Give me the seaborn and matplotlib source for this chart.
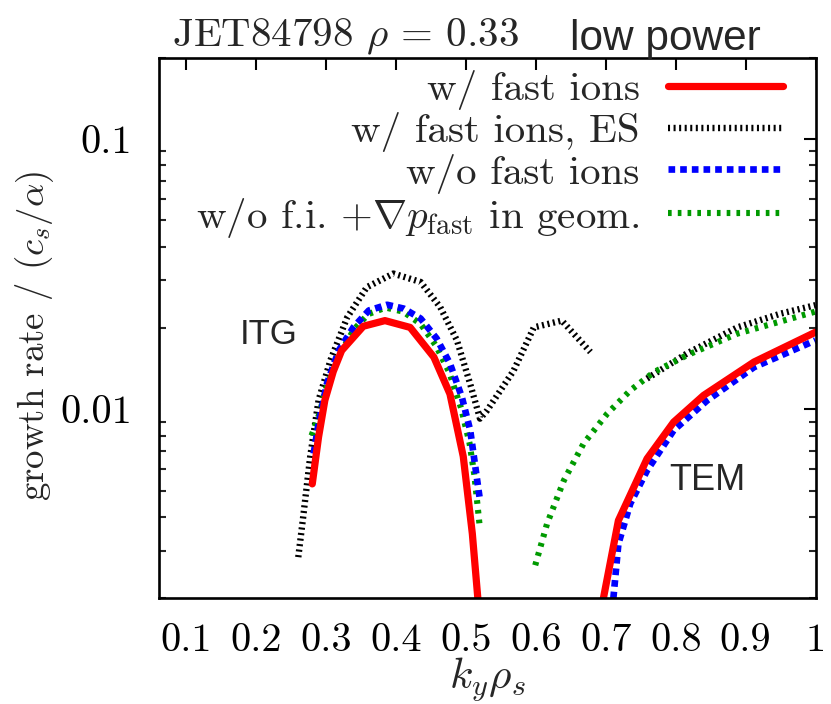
import numpy as np
import pandas as pd
import matplotlib
matplotlib.use("Agg")
import matplotlib.pyplot as plt
import seaborn as sns
from matplotlib.ticker import FixedLocator, FixedFormatter, NullFormatter, LogLocator

# ---------------- data ----------------
series_names = ["w/ fast ions", "w/ fast ions, ES", "w/o fast ions",
                r"w/o f.i. $+\nabla p_{\rm fast}$ in geom."]

red_itg_x = [0.280, 0.289, 0.298, 0.310, 0.322, 0.353, 0.384, 0.420, 0.454, 0.477, 0.496, 0.509, 0.522]
red_itg_y = [0.0053, 0.0079, 0.0108, 0.0138, 0.0165, 0.0203, 0.0213, 0.0201, 0.0156, 0.0114, 0.0067,
             0.00347, 0.0014]
red_tem_x = [0.680, 0.718, 0.759, 0.797, 0.840, 0.912, 1.000]
red_tem_y = [0.0012, 0.00388, 0.00657, 0.00897, 0.01127, 0.01497, 0.0193]

blk_itg_x = [0.260, 0.267, 0.277, 0.289, 0.306, 0.330, 0.358, 0.396, 0.435, 0.463, 0.487,
             0.506, 0.520, 0.530, 0.568, 0.597, 0.637, 0.678]
blk_itg_y = [0.00284, 0.0040, 0.00667, 0.0108, 0.0152, 0.0219, 0.0283, 0.0318, 0.0296, 0.0239,
             0.0180, 0.0124, 0.00924, 0.0099, 0.0139, 0.0201, 0.0213, 0.0163]
blk_tem_x = [0.759, 0.816, 0.888, 0.950, 1.000]
blk_tem_y = [0.0130, 0.0161, 0.0201, 0.0226, 0.0243]

blu_itg_x = [0.282, 0.289, 0.301, 0.318, 0.339, 0.361, 0.387, 0.411, 0.435, 0.458, 0.477,
             0.494, 0.506, 0.520]
blu_itg_y = [0.00686, 0.00885, 0.01245, 0.01652, 0.02014, 0.02323, 0.02438, 0.02359, 0.02168,
             0.01828, 0.01477, 0.01111, 0.00836, 0.0046]
blu_tem_x = [0.700, 0.718, 0.735, 0.759, 0.797, 0.845, 0.912, 1.000]
blu_tem_y = [0.0010, 0.00318, 0.00448, 0.00594, 0.00836, 0.01079, 0.01432, 0.0180]

grn_itg_x = [0.279, 0.290, 0.300, 0.320, 0.340, 0.360, 0.385, 0.410, 0.435, 0.457, 0.476,
             0.493, 0.505, 0.512, 0.520]
grn_itg_y = [0.0080, 0.0096, 0.0120, 0.0162, 0.0198, 0.0225, 0.0238, 0.0230, 0.0207, 0.0172,
             0.0137, 0.0101, 0.0075, 0.0057, 0.0036]
grn_tem_x = [0.599, 0.616, 0.640, 0.668, 0.702, 0.735, 0.769, 0.816, 0.888, 1.000]
grn_tem_y = [0.00265, 0.00378, 0.00546, 0.00746, 0.00964, 0.01175, 0.01374, 0.01585, 0.01905,
             0.0230]

x_ticks = [0.1, 0.2, 0.3, 0.4, 0.5, 0.6, 0.7, 0.8, 0.9, 1.0]
x_tick_labels = ["0.1", "0.2", "0.3", "0.4", "0.5", "0.6", "0.7", "0.8", "0.9", "1"]
y_ticks = [0.01, 0.1]
y_tick_labels = ["0.01", "0.1"]

# ---------------- styling ----------------
sns.set_theme(style="white")
plt.rcParams["font.family"] = ["cmr10", "DejaVu Serif"]
plt.rcParams["mathtext.fontset"] = "cm"
plt.rcParams["axes.formatter.use_mathtext"] = True
plt.rcParams["axes.unicode_minus"] = False

styles = {
    series_names[0]: dict(color="#ff0000", lw=5.2, ls="-"),
    series_names[1]: dict(color="#000000", lw=4.6, ls=(0, (0.32, 0.55))),
    series_names[2]: dict(color="#0000ff", lw=4.8, ls=(0, (1.0, 0.75))),
    series_names[3]: dict(color="#009a00", lw=4.4, ls=(0, (0.6, 1.0))),
}

branches = [
    (series_names[0], red_itg_x, red_itg_y), (series_names[0], red_tem_x, red_tem_y),
    (series_names[1], blk_itg_x, blk_itg_y), (series_names[1], blk_tem_x, blk_tem_y),
    (series_names[2], blu_itg_x, blu_itg_y), (series_names[2], blu_tem_x, blu_tem_y),
    (series_names[3], grn_itg_x, grn_itg_y), (series_names[3], grn_tem_x, grn_tem_y),
]

fig = plt.figure(figsize=(8.31, 7.04), dpi=100)
ax = fig.add_axes([158.5 / 831, 1 - 598.3 / 704, (815.5 - 158.5) / 831, (598.3 - 57.7) / 704])
ax.set_yscale("log")

handles = {}
order = [2, 3, 6, 7, 4, 5, 0, 1]
for i in order:
    name, xs, ys = branches[i]
    df = pd.DataFrame({"ky": xs, "gamma": ys})
    st = styles[name]
    sns.lineplot(data=df, x="ky", y="gamma", ax=ax, color=st["color"], linewidth=st["lw"],
                 linestyle=st["ls"], sort=False, estimator=None, legend=False)
    handles[name] = ax.lines[-1]
    handles[name].set_dash_capstyle("butt")

ax.set_xlim(0.06, 1.0)
ax.set_ylim(0.002, 0.2)

ax.xaxis.set_major_locator(FixedLocator(x_ticks))
ax.xaxis.set_major_formatter(FixedFormatter(x_tick_labels))
ax.yaxis.set_major_locator(FixedLocator(y_ticks))
ax.yaxis.set_major_formatter(FixedFormatter(y_tick_labels))
ax.yaxis.set_minor_locator(LogLocator(base=10, subs=np.arange(2, 10)))
ax.yaxis.set_minor_formatter(NullFormatter())

ax.tick_params(axis="both", which="major", direction="in", length=8.5, width=1.5,
               top=True, right=True, labelsize=29, colors="black")
ax.tick_params(axis="x", which="major", pad=18)
ax.tick_params(axis="y", which="major", pad=19)
ax.tick_params(axis="y", which="minor", direction="in", length=4.8, width=1.5,
               left=True, right=True)
ax.tick_params(axis="x", which="minor", bottom=False, top=False)
for sp in ax.spines.values():
    sp.set_linewidth(1.9)
    sp.set_color("black")

ax.set_xlabel("")
ax.set_ylabel("")
fig.text(487 / 831, 1 - 680 / 704, r"$k_y\rho_s$", ha="center", va="center", fontsize=31)
fig.text(35 / 831, 1 - 336 / 704, r"growth rate / $(c_s/\alpha)$", ha="center", va="center",
         rotation=90, fontsize=26.5)

fig.text(172 / 831, 1 - 46 / 704, r"JET84798 $\rho\,=\,0.33$", ha="left", va="baseline",
         fontsize=29.5)
fig.text(570 / 831, 1 - 50 / 704, "low power", ha="left", va="baseline", fontsize=30.5,
         family=["Liberation Sans", "DejaVu Sans"])
ax.text(0.217, 0.01887, "ITG", ha="center", va="center", fontsize=25,
        family=["Liberation Sans", "DejaVu Sans"])
ax.text(0.846, 0.00546, "TEM", ha="center", va="center", fontsize=26,
        family=["Liberation Sans", "DejaVu Sans"])

leg = ax.legend([handles[n] for n in series_names], series_names, loc="upper right",
                bbox_to_anchor=(783 / 831, 1 - 70 / 704), bbox_transform=fig.transFigure,
                frameon=False, markerfirst=False, fontsize=29.5, handlelength=2.8,
                handletextpad=0.7, labelspacing=0.045, borderpad=0, borderaxespad=0)

fig.savefig("out.png", dpi=100)
